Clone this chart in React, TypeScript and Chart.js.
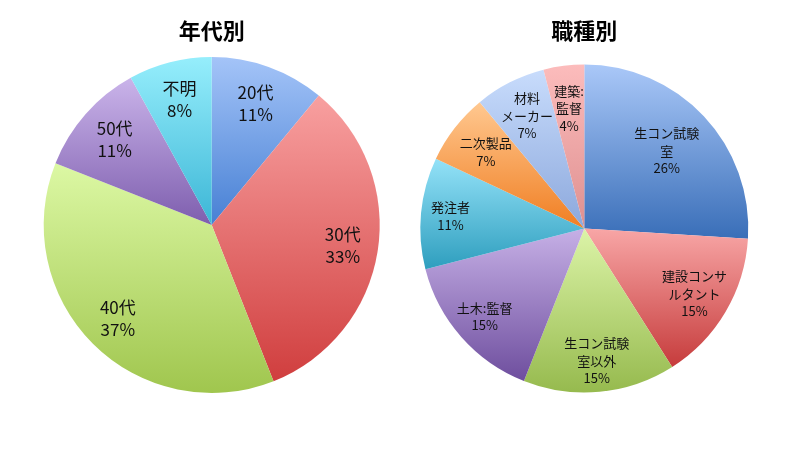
import React, { useEffect, useRef } from "react";
import { Chart, registerables } from "chart.js";

Chart.register(...registerables);

// ---- Data ----
const ageTitle = "年代別";
const ageLabels: string[][] = [["20代"], ["30代"], ["40代"], ["50代"], ["不明"]];
const ageValues = [11, 33, 37, 11, 8];
const ageTopColors = ["#a4c4f8", "#f8a0a0", "#dcf8a4", "#cab4ea", "#96eefc"];
const ageBottomColors = ["#4780d4", "#d03e3e", "#a0c64e", "#7e5eae", "#3cb6d6"];

const jobTitle = "職種別";
const jobLabels: string[][] = [
  ["生コン試験", "室"],
  ["建設コンサ", "ルタント"],
  ["生コン試験", "室以外"],
  ["土木:監督"],
  ["発注者"],
  ["二次製品"],
  ["材料", "メーカー"],
  ["建築:", "監督"],
];
const jobValues = [26, 15, 15, 15, 11, 7, 7, 4];
const jobTopColors = ["#aac8f8", "#f8a6a6", "#dcf4a8", "#c6b0e6", "#94e2f8", "#ffc890", "#c8dcfc", "#fcbcbc"];
const jobBottomColors = ["#396eb8", "#c63c3c", "#96ba4e", "#6e4e9e", "#2e9ebe", "#f07e22", "#8ca8dc", "#de9090"];

// ---- Layout (not data) ----
const FONT = "'Noto Sans CJK JP', 'Noto Sans', sans-serif";

function sliceGradient(chart: any, values: number[], index: number, top: string, bottom: string) {
  const area = chart.chartArea;
  if (!area) return bottom;
  const cx = (area.left + area.right) / 2;
  const cy = (area.top + area.bottom) / 2;
  const r = Math.min(area.right - area.left, area.bottom - area.top) / 2;
  const total = values.reduce((a, b) => a + b, 0);
  let cum = 0;
  for (let i = 0; i < index; i++) cum += values[i];
  const s = -Math.PI / 2 + (2 * Math.PI * cum) / total;
  const e = s + (2 * Math.PI * values[index]) / total;
  const ys = [cy, cy + r * Math.sin(s), cy + r * Math.sin(e)];
  if (s < Math.PI / 2 && e > Math.PI / 2) ys.push(cy + r);
  const y0 = Math.min(...ys);
  let y1 = Math.max(...ys);
  if (y1 - y0 < 1) y1 = y0 + 1;
  const g = chart.ctx.createLinearGradient(0, y0, 0, y1);
  g.addColorStop(0, top);
  g.addColorStop(1, bottom);
  return g;
}

type PieProps = {
  title: string;
  labels: string[][];
  values: number[];
  top: string[];
  bottom: string[];
  left: number;
  padding: { left: number; right: number; top: number; bottom: number };
  titlePad: { top: number; bottom: number };
  labelFont: number;
  lineGap: number;
  labelRadius: number[];
};

function PieChart(p: PieProps) {
  const ref = useRef<HTMLCanvasElement | null>(null);
  useEffect(() => {
    if (!ref.current) return;
    const labelPlugin = {
      id: "sliceLabels",
      afterDatasetsDraw(chart: any) {
        const ctx = chart.ctx;
        const meta = chart.getDatasetMeta(0);
        ctx.save();
        ctx.fillStyle = "#111";
        ctx.textAlign = "center";
        ctx.textBaseline = "middle";
        ctx.font = `${p.labelFont}px ${FONT}`;
        meta.data.forEach((arc: any, i: number) => {
          const props = arc.getProps(["x", "y", "startAngle", "endAngle", "outerRadius"], true);
          const mid = (props.startAngle + props.endAngle) / 2;
          const rr = props.outerRadius * p.labelRadius[i];
          const x = props.x + Math.cos(mid) * rr;
          const y = props.y + Math.sin(mid) * rr;
          const lines = [...p.labels[i], `${p.values[i]}%`];
          const h = (lines.length - 1) * p.lineGap;
          lines.forEach((t, k) => {
            ctx.fillText(t, x, y - h / 2 + k * p.lineGap);
          });
        });
        ctx.restore();
      },
    };
    const chart = new Chart(ref.current, {
      type: "pie",
      data: {
        labels: p.labels.map((l) => l.join("")),
        datasets: [
          {
            data: p.values,
            backgroundColor: (c: any) =>
              sliceGradient(c.chart, p.values, c.dataIndex, p.top[c.dataIndex], p.bottom[c.dataIndex]),
            borderWidth: 0,
            hoverOffset: 0,
            offset: 0,
          },
        ],
      },
      options: {
        responsive: false,
        animation: false,
        events: [],
        layout: { padding: p.padding },
        plugins: {
          legend: { display: false },
          tooltip: { enabled: false },
          title: {
            display: true,
            text: p.title,
            color: "#000",
            font: { size: 22, weight: "bold", family: FONT, lineHeight: 1.2 },
            padding: p.titlePad,
          },
        },
      } as any,
      plugins: [labelPlugin],
    });
    return () => chart.destroy();
  }, []);
  return (
    <canvas
      ref={ref}
      width={400}
      height={454}
      style={{ position: "absolute", left: p.left, top: 0, width: 400, height: 454 }}
    />
  );
}

export default function App() {
  useEffect(() => {
    document.body.style.margin = "0";
  }, []);
  return (
    <div style={{ position: "relative", width: 800, height: 454, background: "#fff" }}>
      <PieChart
        title={ageTitle}
        labels={ageLabels}
        values={ageValues}
        top={ageTopColors}
        bottom={ageBottomColors}
        left={0}
        padding={{ left: 43.7, right: 20.3, top: 0, bottom: 61 }}
        titlePad={{ top: 17, bottom: 13.6 }}
        labelFont={17}
        lineGap={22}
        labelRadius={[0.77, 0.79, 0.79, 0.77, 0.77]}
      />
      <PieChart
        title={jobTitle}
        labels={jobLabels}
        values={jobValues}
        top={jobTopColors}
        bottom={jobBottomColors}
        left={400}
        padding={{ left: 20.3, right: 51.7, top: 0, bottom: 61.5 }}
        titlePad={{ top: 17, bottom: 21.1 }}
        labelFont={13}
        lineGap={17.5}
        labelRadius={[0.69, 0.78, 0.81, 0.81, 0.82, 0.76, 0.77, 0.74]}
      />
    </div>
  );
}
